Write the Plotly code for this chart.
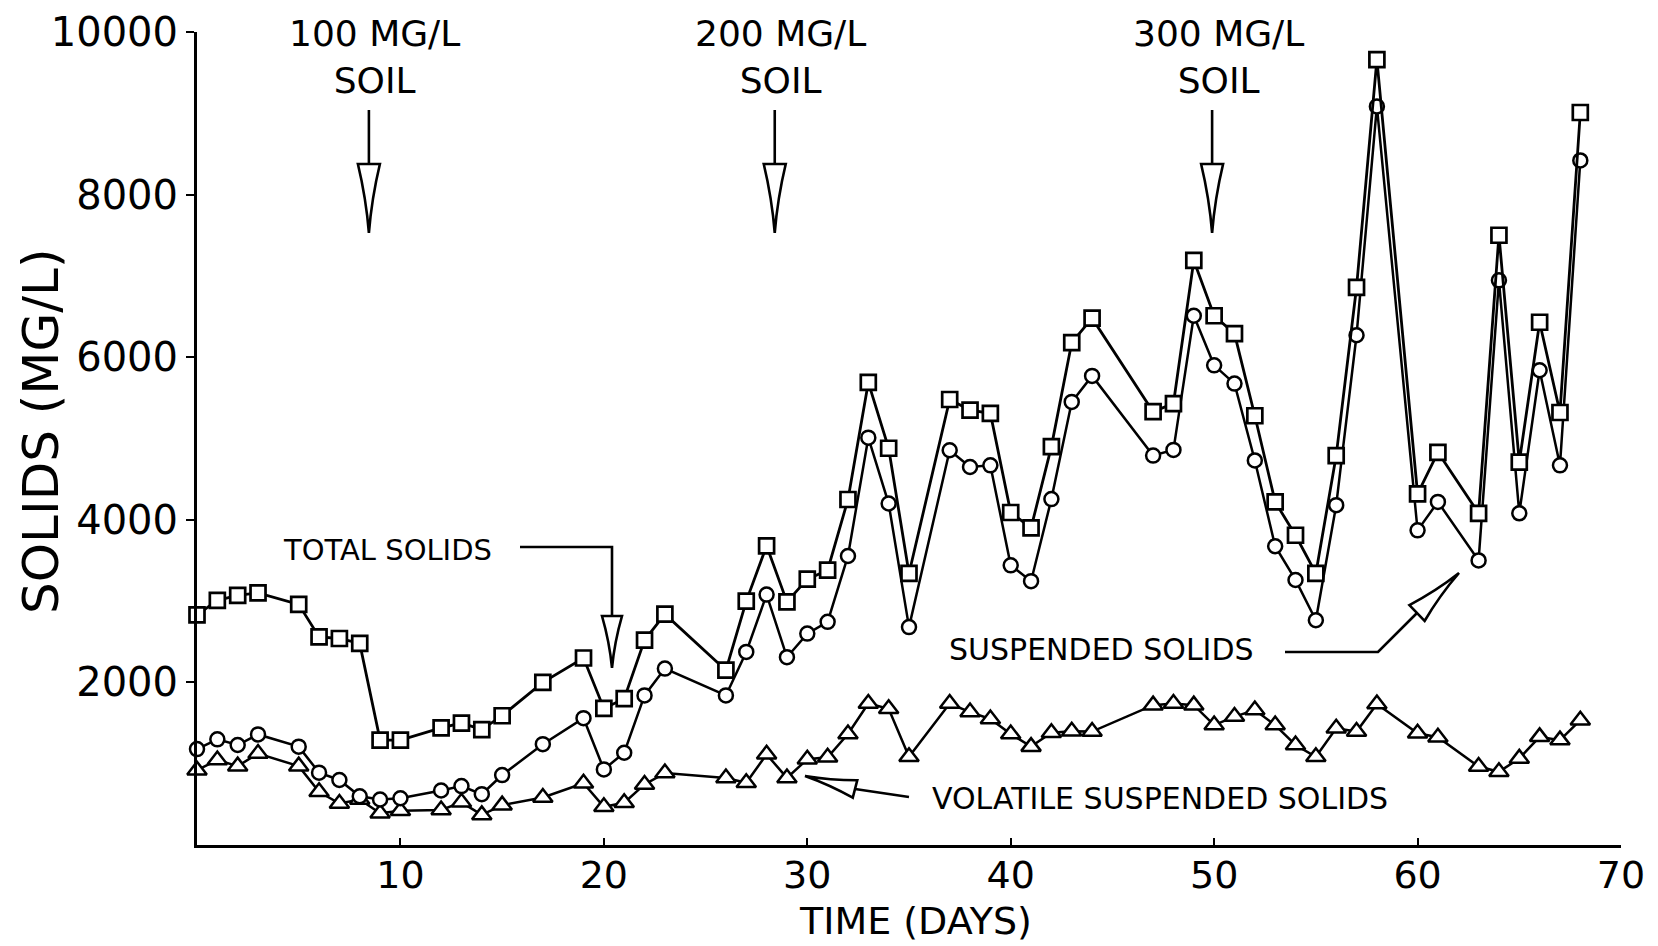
import math
import plotly.graph_objects as go

# Sampling days and measured solids concentrations (mg/L)
days = [0, 1, 2, 3, 5, 6, 7, 8, 9, 10, 12, 13, 14, 15, 17, 19, 20, 21, 22, 23,
        26, 27, 28, 29, 30, 31, 32, 33, 34, 35, 37, 38, 39, 40, 41, 42, 43, 44,
        47, 48, 49, 50, 51, 52, 53, 54, 55, 56, 57, 58, 60, 61, 63, 64, 65, 66, 67, 68]

total_solids = [2830, 3010, 3070, 3100, 2960, 2560, 2540, 2480, 1290, 1290, 1440, 1500, 1420, 1590,
                2000, 2300, 1680, 1800, 2520, 2840,
                2150, 3000, 3680, 2990, 3270, 3380, 4250, 5690, 4880, 3340, 5480, 5350, 5310, 4090,
                3900, 4900, 6180, 6480,
                5330, 5430, 7190, 6510, 6290, 5280, 4220, 3810, 3340, 4790, 6860, 9660, 4320, 4830,
                4080, 7500, 4710, 6430, 5320, 9010]

suspended_solids = [1180, 1300, 1230, 1360, 1210, 890, 800, 600, 560, 575, 670, 725, 625, 860,
                    1240, 1560, 930, 1135, 1840, 2170,
                    1840, 2375, 3080, 2310, 2600, 2745, 3555, 5010, 4200, 2680, 4855, 4650, 4670, 3440,
                    3245, 4255, 5450, 5770,
                    4790, 4860, 6510, 5900, 5675, 4730, 3675, 3260, 2765, 4180, 6270, 9085, 3870, 4220,
                    3500, 6945, 4080, 5840, 4670, 8420]

volatile_suspended_solids = [920, 1045, 970, 1125, 970, 655, 510, 560, 390, 420, 430, 525, 370, 490,
                             585, 760, 470, 520, 745, 885,
                             825, 765, 1115, 825, 1055, 1080, 1365, 1740, 1675, 1085, 1740, 1635, 1550, 1365,
                             1210, 1380, 1400, 1395,
                             1720, 1740, 1720, 1475, 1580, 1660, 1475, 1230, 1085, 1435, 1395, 1735, 1375, 1325,
                             965, 900, 1065, 1330, 1290, 1535]

x_tick_vals = [10, 20, 30, 40, 50, 60, 70]
y_tick_vals = [2000, 4000, 6000, 8000, 10000]

# Soil dosing events: (label, day of the arrow)
soil_doses = [("100 MG/L", 8.45), ("200 MG/L", 28.4), ("300 MG/L", 49.9)]

W, H = 1658, 946
ML, MR, MT, MB = 197, 37, 32, 101
X_MAX, Y_MAX = 70, 10000
PX_DAY = (W - ML - MR) / X_MAX
PX_UNIT = (H - MT - MB) / Y_MAX

GEO = "DejaVu Sans"
INK = "black"


def to_data(px, py):
    """Page pixel -> (day, mg/L) for callouts."""
    return (px - ML) / PX_DAY, (H - MB - py) / PX_UNIT


def to_paper(px, py):
    return (px - ML) / (W - ML - MR), (H - MB - py) / (H - MT - MB)


def day_to_px(d):
    return ML + d * PX_DAY


def polyline(points):
    pts = [to_data(px, py) for px, py in points]
    path = "M " + " L ".join(f"{x:.4f},{y:.2f}" for x, y in pts)
    return dict(type="path", path=path, xref="x", yref="y",
                line=dict(color=INK, width=2.6), layer="above")


def wedge(base, tip, half_width):
    """Hollow spike-shaped arrowhead from base centre to tip (pixel geometry)."""
    bx, by = base
    tx, ty = tip
    dx, dy = tx - bx, ty - by
    n = math.hypot(dx, dy)
    nx, ny = -dy / n * half_width, dx / n * half_width
    c1 = (bx + nx, by + ny)
    c2 = (bx - nx, by - ny)
    # slightly concave sides
    m1 = ((c1[0] + tx) / 2 - nx * 0.25, (c1[1] + ty) / 2 - ny * 0.25)
    m2 = ((c2[0] + tx) / 2 + nx * 0.25, (c2[1] + ty) / 2 + ny * 0.25)
    p = [to_data(*q) for q in (c1, m1, tip, m2, c2)]
    path = (f"M {p[0][0]:.4f},{p[0][1]:.2f} Q {p[1][0]:.4f},{p[1][1]:.2f} {p[2][0]:.4f},{p[2][1]:.2f} "
            f"Q {p[3][0]:.4f},{p[3][1]:.2f} {p[4][0]:.4f},{p[4][1]:.2f} Z")
    return dict(type="path", path=path, xref="x", yref="y", fillcolor="white",
                line=dict(color=INK, width=2.6), layer="above")


def label(text, px, py, size, angle=0):
    x, y = to_paper(px, py)
    return dict(x=x, y=y, xref="paper", yref="paper", text=text, showarrow=False,
                xanchor="center", yanchor="middle", align="center", textangle=angle,
                font=dict(family=GEO, size=size, color=INK))


fig = go.Figure()

fig.add_trace(go.Scatter(
    x=days, y=volatile_suspended_solids, mode="lines+markers", name="Volatile suspended solids",
    line=dict(color=INK, width=2.5),
    marker=dict(symbol="triangle-up", size=17, color="white", line=dict(color=INK, width=2.5)),
    cliponaxis=False))

fig.add_trace(go.Scatter(
    x=days, y=suspended_solids, mode="lines+markers", name="Suspended solids",
    line=dict(color=INK, width=2.5),
    marker=dict(symbol="circle", size=14, color="white", line=dict(color=INK, width=2.5)),
    cliponaxis=False))

fig.add_trace(go.Scatter(
    x=days, y=total_solids, mode="lines+markers", name="Total solids",
    line=dict(color=INK, width=2.8),
    marker=dict(symbol="square", size=15, color="white", line=dict(color=INK, width=2.7)),
    cliponaxis=False))

shapes = []
annotations = []

# Soil dose callouts along the top
for text, day in soil_doses:
    cx = day_to_px(day)
    annotations.append(label(f"{text}<br>SOIL", cx + 6, 57, 36))
    shapes.append(polyline([(cx, 110), (cx, 166)]))
    shapes.append(wedge((cx, 164), (cx, 233), 11))

# Series callouts
annotations.append(label("TOTAL SOLIDS", 387, 550, 29))
shapes.append(polyline([(520, 547), (612, 547), (612, 618)]))
shapes.append(wedge((612, 616), (612, 668), 10))

annotations.append(label("SUSPENDED SOLIDS", 1101, 649, 30))
shapes.append(polyline([(1285, 652), (1378, 652), (1417, 613)]))
shapes.append(wedge((1417, 613), (1459, 573), 11))

annotations.append(label("VOLATILE SUSPENDED SOLIDS", 1160, 798, 30))
shapes.append(polyline([(855, 789), (909, 797)]))
shapes.append(wedge((855, 789), (805, 776), 9))

# Axis titles
annotations.append(label("TIME (DAYS)", 915, 921, 38))
annotations.append(label("SOLIDS (MG/L)", 41, 432, 50, angle=-90))

fig.update_layout(
    width=W, height=H,
    margin=dict(l=ML, r=MR, t=MT, b=MB, autoexpand=False),
    paper_bgcolor="white", plot_bgcolor="white",
    showlegend=False,
    shapes=shapes,
    annotations=annotations,
    xaxis=dict(range=[0, X_MAX], tickvals=x_tick_vals, ticktext=[str(v) for v in x_tick_vals],
               showgrid=False, zeroline=False, showline=True, linecolor=INK, linewidth=3,
               ticks="inside", ticklen=7, tickwidth=2, tickcolor=INK,
               ticklabelstandoff=-6,
               tickfont=dict(family=GEO, size=38, color=INK)),
    yaxis=dict(range=[0, Y_MAX], tickvals=y_tick_vals, ticktext=[str(v) for v in y_tick_vals],
               showgrid=False, zeroline=False, showline=True, linecolor=INK, linewidth=3,
               ticks="outside", ticklen=8, tickwidth=2, tickcolor=INK,
               tickfont=dict(family=GEO, size=40, color=INK)),
)

fig.write_html("out.html")
